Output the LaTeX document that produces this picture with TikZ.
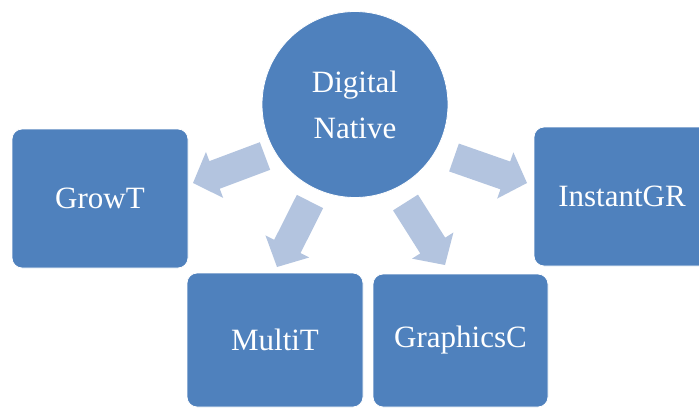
\documentclass[tikz,border=0pt]{standalone}
\usepackage{fontspec}
\setmainfont{Liberation Serif}
\usetikzlibrary{calc}
\definecolor{boxblue}{HTML}{4F81BD}
\definecolor{arrowblue}{HTML}{B3C4DF}
\newcommand{\blockarrow}[2]{%
  \coordinate (hb#1#2) at ($(#2)!23pt!(#1)$);
  \fill[arrowblue] ($(#1)!14.75pt!90:(#2)$) -- ($(hb#1#2)!14.75pt!90:(#2)$) --
    ($(hb#1#2)!24.5pt!90:(#2)$) -- (#2) -- ($(hb#1#2)!24.5pt!-90:(#2)$) --
    ($(hb#1#2)!14.75pt!-90:(#2)$) -- ($(#1)!14.75pt!-90:(#2)$) -- cycle;}
\begin{document}
\begin{tikzpicture}[x=1pt,y=-1pt,
  box/.style={rectangle,rounded corners=10pt,fill=boxblue,draw=white,line width=0.8pt,
    minimum width=176pt,minimum height=139pt,inner sep=0pt,text=white,
    font=\fontsize{31}{46}\selectfont},
  hub/.style={circle,fill=boxblue,draw=white,line width=0.8pt,minimum size=186pt,inner sep=0pt,
    text=white,align=center,font=\fontsize{31}{46}\selectfont}]
\useasboundingbox (0,0) rectangle (699,408);
\begin{scope}
\clip (0,0) rectangle (699,408);
\node[hub] (dn) at (355,104.5) {Digital\\Native};
\node[box] (grow) at (100,198.5) {GrowT};
\node[box] (inst) at (622,196.5) {InstantGR};
\node[box,minimum height=134pt] (multi) at (275,340) {MultiT};
\node[box,minimum height=133pt,minimum width=175pt] (graph) at (460.5,340.5) {GraphicsC};
\coordinate (t1) at (265,156);   \coordinate (p1) at (193,183);
\coordinate (t2) at (310,201.5); \coordinate (p2) at (277,267);
\coordinate (t3) at (405.5,202.5); \coordinate (p3) at (445,265);
\coordinate (t4) at (454,157.5); \coordinate (p4) at (527,183);
\blockarrow{t1}{p1}
\blockarrow{t2}{p2}
\blockarrow{t3}{p3}
\blockarrow{t4}{p4}
\end{scope}
\end{tikzpicture}
\end{document}
